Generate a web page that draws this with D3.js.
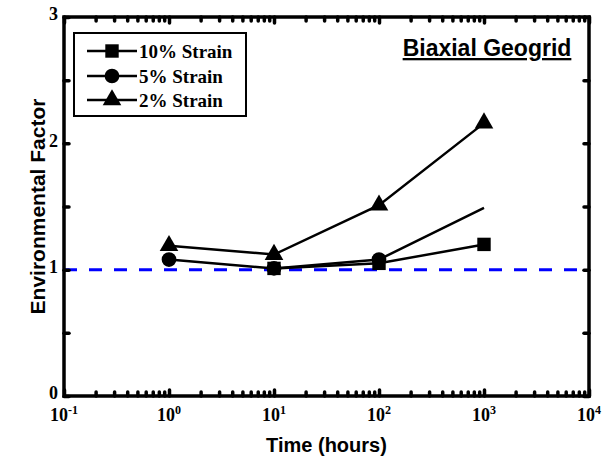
<!DOCTYPE html>
<html><head><meta charset="utf-8">
<script src="https://cdn.jsdelivr.net/npm/d3@7"></script>
<style>
html,body{margin:0;padding:0;background:#fff;}
svg{display:block;}
</style></head>
<body><svg id="c" width="610" height="463"></svg>
<script>
// ---- data ----
const xTickValues = [0.1, 1, 10, 100, 1000, 10000];
const xTickExponents = ["-1", "0", "1", "2", "3", "4"];
const yTickValues = [0, 1, 2, 3];
const yTickLabels = ["0", "1", "2", "3"];
const series10Time = [10, 100, 1000];
const series10Value = [1.01, 1.05, 1.20];
const series5Time = [1, 10, 100, 1000];
const series5Value = [1.08, 1.01, 1.08, 1.49];
const series5Markers = [true, true, true, false];
const series2Time = [1, 10, 100, 1000];
const series2Value = [1.19, 1.12, 1.51, 2.16];
const legendLabels = ["10% Strain", "5% Strain", "2% Strain"];
const referenceValue = 1;
const title = "Biaxial Geogrid";
const xLabel = "Time (hours)";
const yLabel = "Environmental Factor";

const svg = d3.select("#c");
const L = 64, R = 589, T = 17, B = 396;
const x = d3.scaleLog().domain([0.1, 10000]).range([L, R]);
const y = d3.scaleLinear().domain([0, 3]).range([B, T]);

// reference dashed line
svg.append("line").attr("x1", x(0.1)).attr("x2", x(10000))
  .attr("y1", y(referenceValue)).attr("y2", y(referenceValue))
  .attr("stroke", "#0000ff").attr("stroke-width", 3).attr("stroke-dasharray", "13,12");

// frame
svg.append("rect").attr("x", L).attr("y", T).attr("width", R - L).attr("height", B - T)
  .attr("fill", "none").attr("stroke", "#000").attr("stroke-width", 3.5);

// ticks via axes (inward)
const minor = [];
for (let e = -1; e < 4; e++) for (let m = 2; m <= 9; m++) minor.push(m * Math.pow(10, e));
function tickStyle(g, w) {
  g.select(".domain").remove();
  g.selectAll("line").attr("stroke", "#000").attr("stroke-width", w).attr("stroke-linecap", "round");
  g.selectAll("text").remove();
}
svg.append("g").attr("transform", `translate(0,${B})`)
  .call(d3.axisTop(x).tickValues(minor).tickSize(4)).call(g => tickStyle(g, 3.5));
svg.append("g").attr("transform", `translate(0,${B})`)
  .call(d3.axisTop(x).tickValues(xTickValues).tickSize(6)).call(g => tickStyle(g, 3.5));
svg.append("g").attr("transform", `translate(0,${T})`)
  .call(d3.axisBottom(x).tickValues(minor).tickSize(4)).call(g => tickStyle(g, 3.5));
svg.append("g").attr("transform", `translate(0,${T})`)
  .call(d3.axisBottom(x).tickValues(xTickValues).tickSize(6)).call(g => tickStyle(g, 3.5));
const yTicksAll = [0, 0.5, 1, 1.5, 2, 2.5, 3];
svg.append("g").attr("transform", `translate(${L},0)`)
  .call(d3.axisRight(y).tickValues(yTicksAll).tickSize(5)).call(g => tickStyle(g, 3.5));
svg.append("g").attr("transform", `translate(${R},0)`)
  .call(d3.axisLeft(y).tickValues(yTicksAll).tickSize(5)).call(g => tickStyle(g, 3.5));

// tick labels
const serif = "'Liberation Serif','Times New Roman',serif";
svg.append("g").selectAll("text").data(yTickValues).join("text")
  .attr("x", L - 6).attr("y", d => y(d) - 2).attr("dy", "0.3em")
  .attr("text-anchor", "end").attr("font-family", serif).attr("font-weight", "bold")
  .attr("font-size", 18).text((d, i) => yTickLabels[i]);
const xl = svg.append("g").selectAll("text").data(xTickValues).join("text")
  .attr("x", d => x(d)).attr("y", B + 25)
  .attr("text-anchor", "middle").attr("font-family", serif).attr("font-weight", "bold")
  .attr("font-size", 18);
xl.append("tspan").text("10");
xl.append("tspan").attr("dy", -7).attr("font-size", 12).text((d, i) => xTickExponents[i]);

// axis titles
const sans = "'Liberation Sans',Arial,sans-serif";
svg.append("text").attr("x", (L + R) / 2).attr("y", 452).attr("text-anchor", "middle")
  .attr("font-family", sans).attr("font-weight", "bold").attr("font-size", 20).text(xLabel);
svg.append("text").attr("transform", `translate(45,${(T + B) / 2}) rotate(-90)`)
  .attr("text-anchor", "middle").attr("font-family", sans).attr("font-weight", "bold")
  .attr("font-size", 21).text(yLabel);

// title
svg.append("text").attr("x", 487).attr("y", 56).attr("text-anchor", "middle")
  .attr("font-family", sans).attr("font-weight", "bold").attr("font-size", 23)
  .attr("text-decoration", "underline").text(title);

// series
const line = d3.line().x(d => x(d[0])).y(d => y(d[1]));
const s10 = series10Time.map((t, i) => [t, series10Value[i]]);
const s5 = series5Time.map((t, i) => [t, series5Value[i]]);
const s2 = series2Time.map((t, i) => [t, series2Value[i]]);
[s10, s5, s2].forEach(s => svg.append("path").datum(s).attr("d", line)
  .attr("fill", "none").attr("stroke", "#000").attr("stroke-width", 2.5));

const sq = d3.symbol().type(d3.symbolSquare).size(180);
const ci = d3.symbol().type(d3.symbolCircle).size(170);
const tr = d3.symbol().type(d3.symbolTriangle).size(150);
svg.append("g").selectAll("path").data(s2).join("path")
  .attr("transform", d => `translate(${x(d[0])},${y(d[1])})`).attr("d", tr());
svg.append("g").selectAll("path").data(s5.filter((d, i) => series5Markers[i])).join("path")
  .attr("transform", d => `translate(${x(d[0])},${y(d[1])})`).attr("d", ci());
svg.append("g").selectAll("path").data(s10).join("path")
  .attr("transform", d => `translate(${x(d[0])},${y(d[1])})`).attr("d", sq());

// legend
svg.append("rect").attr("x", 74).attr("y", 33).attr("width", 172).attr("height", 83)
  .attr("fill", "#fff").attr("stroke", "#000").attr("stroke-width", 2);
const rows = [51, 76, 100];
const syms = [sq, ci, tr];
legendLabels.forEach((lab, i) => {
  svg.append("line").attr("x1", 87).attr("x2", 137).attr("y1", rows[i]).attr("y2", rows[i])
    .attr("stroke", "#000").attr("stroke-width", 2.5);
  svg.append("path").attr("transform", `translate(112,${rows[i]})`).attr("d", syms[i]());
  svg.append("text").attr("x", 139).attr("y", rows[i]).attr("dy", "0.35em")
    .attr("font-family", serif).attr("font-weight", "bold").attr("font-size", 19).text(lab);
});
</script></body></html>
